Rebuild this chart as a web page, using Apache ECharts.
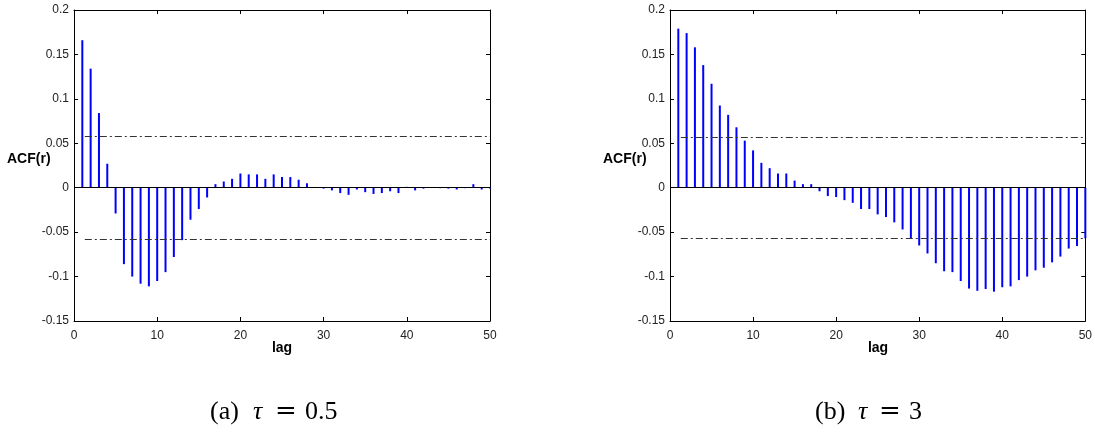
<!DOCTYPE html>
<html>
<head>
<meta charset="utf-8">
<script src="https://cdn.jsdelivr.net/npm/echarts@6/dist/echarts.min.js"></script>
<style>
html,body{margin:0;padding:0;background:#fff;}
#chart{width:1095px;height:433px;}
</style>
</head>
<body>
<div id="chart"></div>
<script>
// ---- data ----
const lags = [1,2,3,4,5,6,7,8,9,10,11,12,13,14,15,16,17,18,19,20,21,22,23,24,25,26,27,28,29,30,31,32,33,34,35,36,37,38,39,40,41,42,43,44,45,46,47,48,49,50];
const acfTau05 = [0.166,0.134,0.084,0.027,-0.029,-0.086,-0.100,-0.108,-0.111,-0.105,-0.095,-0.078,-0.059,-0.036,-0.024,-0.011,0.004,0.007,0.010,0.016,0.015,0.015,0.010,0.015,0.012,0.012,0.009,0.005,0.0005,-0.001,-0.003,-0.006,-0.008,-0.002,-0.005,-0.007,-0.006,-0.004,-0.006,0.001,-0.003,-0.001,0.0005,-0.0005,-0.001,-0.002,-0.0005,0.004,-0.002,-0.001];
const acfTau3 = [0.179,0.174,0.158,0.138,0.117,0.0925,0.082,0.068,0.053,0.042,0.028,0.022,0.016,0.016,0.008,0.004,0.004,-0.004,-0.0094,-0.0105,-0.014,-0.017,-0.024,-0.024,-0.030,-0.033,-0.039,-0.047,-0.0566,-0.065,-0.074,-0.085,-0.094,-0.095,-0.105,-0.1135,-0.116,-0.114,-0.117,-0.112,-0.111,-0.104,-0.100,-0.093,-0.090,-0.084,-0.0775,-0.0685,-0.0656,-0.057];
const confTau05 = 0.0577;
const confTau3 = 0.057;
const xTickLabels = ['0','10','20','30','40','50'];
const yTickLabels = ['-0.15','-0.1','-0.05','0','0.05','0.1','0.15','0.2'];
const yLabel = 'ACF(r)';
const xLabel = 'lag';
const captions = [['(a)','τ','=','0.5'], ['(b)','τ','=','3']];

// ---- chart ----
const chart = echarts.init(document.getElementById('chart'));
const FONT = 'Liberation Sans, Arial, Helvetica, sans-serif';
const SERIF = 'Liberation Serif, DejaVu Serif, serif';
const grids = [
  {left: 74, top: 10, width: 416, height: 311},
  {left: 670, top: 10, width: 416, height: 311}
];
function yFmt(v){
  const idx = Math.round((v + 0.15) / 0.05);
  return yTickLabels[idx] !== undefined ? yTickLabels[idx] : '';
}
function xFmt(v){
  const idx = Math.round(v / 10);
  return xTickLabels[idx] !== undefined ? xTickLabels[idx] : '';
}
const axisLine = {show: true, onZero: false, lineStyle: {color: '#000', width: 1}};
const tick = {show: true, inside: true, length: 4, lineStyle: {color: '#000', width: 1}};
const xAxes = [], yAxes = [];
grids.forEach((g, i) => {
  xAxes.push({gridIndex: i, type: 'value', min: 0, max: 50, interval: 10, position: 'bottom',
    axisLine, axisTick: tick, splitLine: {show: false},
    axisLabel: {formatter: xFmt, color: '#222', fontSize: 12, fontFamily: FONT, margin: 9}});
  xAxes.push({gridIndex: i, type: 'value', min: 0, max: 50, interval: 10, position: 'top',
    axisLine, axisTick: tick, splitLine: {show: false}, axisLabel: {show: false}});
  yAxes.push({gridIndex: i, type: 'value', min: -0.15, max: 0.2, interval: 0.05, position: 'left',
    axisLine, axisTick: tick, splitLine: {show: false},
    axisLabel: {formatter: yFmt, color: '#222', fontSize: 12, fontFamily: FONT, margin: 5}});
  yAxes.push({gridIndex: i, type: 'value', min: -0.15, max: 0.2, interval: 0.05, position: 'right',
    axisLine, axisTick: tick, splitLine: {show: false}, axisLabel: {show: false}});
});
function makeSeries(values, conf, gi){
  return {
    type: 'bar', xAxisIndex: gi * 2, yAxisIndex: gi * 2,
    data: lags.map((l, k) => [l, values[k]]),
    barWidth: 2, itemStyle: {color: '#0000ff'}, silent: true, animation: false,
    markLine: {
      silent: true, symbol: 'none', animation: false, label: {show: false},
      data: [
        {yAxis: 0, lineStyle: {color: '#000', width: 1, type: 'solid'}},
        [{coord: [1.3, conf], lineStyle: {color: '#333', width: 1, type: [7, 3, 2, 3]}}, {coord: [50, conf]}],
        [{coord: [1.3, -conf], lineStyle: {color: '#333', width: 1, type: [7, 3, 2, 3]}}, {coord: [50, -conf]}]
      ]
    }
  };
}
const graphics = [];
grids.forEach((g, i) => {
  graphics.push({type: 'text', x: g.left - 67, y: 159,
    style: {text: yLabel, font: 'bold 14px ' + FONT, fill: '#000', align: 'left', verticalAlign: 'middle'}});
  graphics.push({type: 'text', x: g.left + g.width / 2, y: 348,
    style: {text: xLabel, font: 'bold 14px ' + FONT, fill: '#000', align: 'center', verticalAlign: 'middle'}});
});
// caption pieces: left x of each piece
const capPos = [[210, 253, 275, 305], [815, 858, 879, 909]];
const capFonts = ['26px ' + SERIF, 'italic 26px ' + SERIF, '26px DejaVu Serif, serif', '26px ' + SERIF];
captions.forEach((c, i) => {
  c.forEach((part, j) => {
    graphics.push({type: 'text', x: capPos[i][j], y: 412,
      style: {text: part, font: capFonts[j], fill: '#000', align: 'left', verticalAlign: 'middle'}});
  });
});
chart.setOption({
  animation: false,
  backgroundColor: '#fff',
  grid: grids,
  xAxis: xAxes,
  yAxis: yAxes,
  series: [makeSeries(acfTau05, confTau05, 0), makeSeries(acfTau3, confTau3, 1)],
  graphic: graphics
});
</script>
</body>
</html>
